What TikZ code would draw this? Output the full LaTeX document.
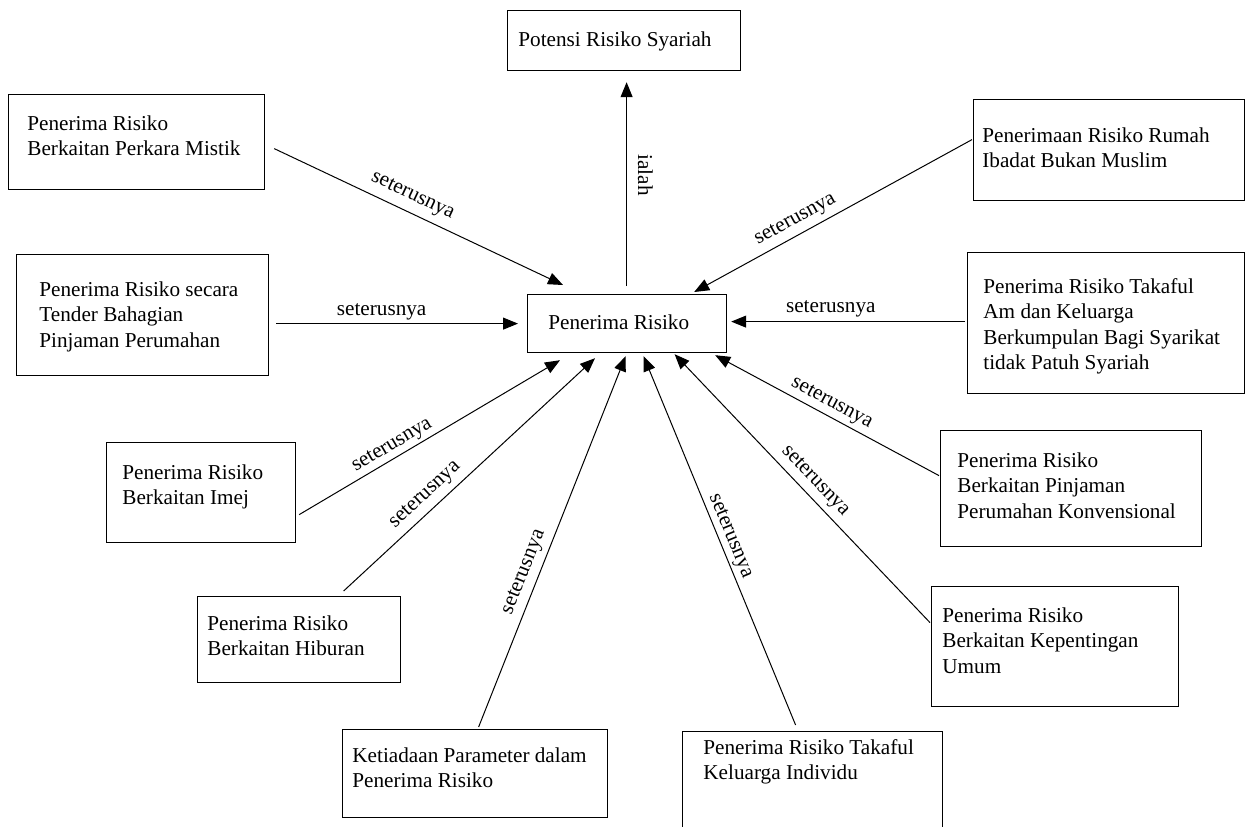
\documentclass[tikz,border=0pt]{standalone}
\usepackage{fontspec}
\setmainfont{Liberation Serif}
\usetikzlibrary{arrows.meta}
\newcommand\ml[1]{\begin{tabular}[t]{@{}l@{}}#1\end{tabular}}
\newcommand\bx[5]{\pgfmathsetmacro\bxw{(#4-#2)*0.5}\pgfmathsetmacro\bxh{(#5-#3)*0.5}\node[box,minimum width=\bxw pt,minimum height=\bxh pt] (#1) at (#2,#3) {};}
\begin{document}
\begin{tikzpicture}[x=0.5pt,y=-0.5pt,
  box/.style={draw, line width=0.6pt, inner sep=0pt, anchor=north west},
  txt/.style={anchor=base west, inner sep=0pt, font=\fontsize{10.6}{12.75}\selectfont},
  arr/.style={line width=0.5pt, -{Triangle[length=7.5pt,width=6pt]}},
  lbl/.style={font=\fontsize{10.6}{12.75}\selectfont, sloped, above}]
\useasboundingbox (0,0) rectangle (1245,826);
\clip (0,0) rectangle (1245,826);

% boxes
\bx{pot}{507}{10}{740}{70}
\bx{ctr}{527}{294}{726}{352}
\bx{mis}{8}{94}{264}{189}
\bx{ten}{16}{254}{268}{375}
\bx{rum}{973}{99}{1244}{200}
\bx{tam}{967}{252}{1244}{393}
\bx{ime}{106}{442}{295}{542}
\bx{hib}{197}{596}{400}{682}
\bx{ket}{342}{729}{607}{817}
\bx{tkl}{682}{731}{942}{840}
\bx{kon}{940}{430}{1201}{546}
\bx{kep}{931}{586}{1178}{706}

% texts
\node[txt] (pot-t) at (518,46) {Potensi Risiko Syariah};
\node[txt] (ctr-t) at (548,329) {Penerima Risiko};
\node[txt] (mis-t) at (27,130) {\ml{Penerima Risiko\\Berkaitan Perkara Mistik}};
\node[txt] (ten-t) at (39,296) {\ml{Penerima Risiko secara\\Tender Bahagian\\Pinjaman Perumahan}};
\node[txt] (rum-t) at (982,142) {\ml{Penerimaan Risiko Rumah\\Ibadat Bukan Muslim}};
\node[txt] (tam-t) at (983,293) {\ml{Penerima Risiko Takaful\\Am dan Keluarga\\Berkumpulan Bagi Syarikat\\tidak Patuh Syariah}};
\node[txt] (ime-t) at (122,479) {\ml{Penerima Risiko\\Berkaitan Imej}};
\node[txt] (hib-t) at (207,630) {\ml{Penerima Risiko\\Berkaitan Hiburan}};
\node[txt] (ket-t) at (352,762) {\ml{Ketiadaan Parameter dalam\\Penerima Risiko}};
\node[txt] (tkl-t) at (703,754) {\ml{Penerima Risiko Takaful\\Keluarga Individu}};
\node[txt] (kon-t) at (957,467) {\ml{Penerima Risiko\\Berkaitan Pinjaman\\Perumahan Konvensional}};
\node[txt] (kep-t) at (942,622) {\ml{Penerima Risiko\\Berkaitan Kepentingan\\Umum}};

% connectors
\draw[arr] ([shift={(-0.5,-8)}]ctr.north) -- ([shift={(2.5,11)}]pot.south);
\node[rotate=-90, anchor=base, inner sep=0pt, font=\fontsize{10.6}{12.75}\selectfont] (ialah) at (638,175) {ialah};

\draw[arr] ([shift={(9,6.5)}]mis.east) -- node[lbl, pos=0.455, inner sep=3.6pt] (l1) {seterusnya} ([shift={(36,-9)}]ctr.north west);
\draw[arr] ([shift={(7,8.5)}]ten.east) -- node[lbl, pos=0.436, inner sep=1.7pt] (l2) {seterusnya} ([shift={(-9,0)}]ctr.west);
\draw[arr] ([shift={(-1,-10.5)}]rum.west) -- node[lbl, pos=0.61, inner sep=2.8pt] (l3) {seterusnya} ([shift={(-33,-2)}]ctr.north east);
\draw[arr] ([shift={(-2,-1.5)}]tam.west) -- node[lbl, pos=0.574, inner sep=2.2pt] (l4) {seterusnya} ([shift={(4,-2)}]ctr.east);
\draw[arr] ([shift={(3,22)}]ime.east) -- node[lbl, pos=0.38, inner sep=1.4pt] (l5) {seterusnya} ([shift={(33,7)}]ctr.south west);
\draw[arr] ([shift={(44.5,-5)}]hib.north) -- node[lbl, pos=0.365, inner sep=3pt] (l6) {seterusnya} ([shift={(68,5)}]ctr.south west);
\draw[arr] ([shift={(3.5,-2)}]ket.north) -- node[lbl, pos=0.403, inner sep=2.8pt] (l7) {seterusnya} ([shift={(-1.5,3)}]ctr.south);
\draw[arr] ([shift={(-17,-6)}]tkl.north) -- node[lbl, pos=0.5, inner sep=1.2pt] (l8) {seterusnya} ([shift={(16.5,3)}]ctr.south);
\draw[arr] ([shift={(-1,-24)}]kep.west) -- node[lbl, pos=0.49, inner sep=2.6pt] (l9) {seterusnya} ([shift={(47.5,1)}]ctr.south);
\draw[arr] ([shift={(-1,-13)}]kon.west) -- node[lbl, pos=0.507, inner sep=1.8pt] (l10) {seterusnya} ([shift={(-12,2)}]ctr.south east);
\end{tikzpicture}
\end{document}
